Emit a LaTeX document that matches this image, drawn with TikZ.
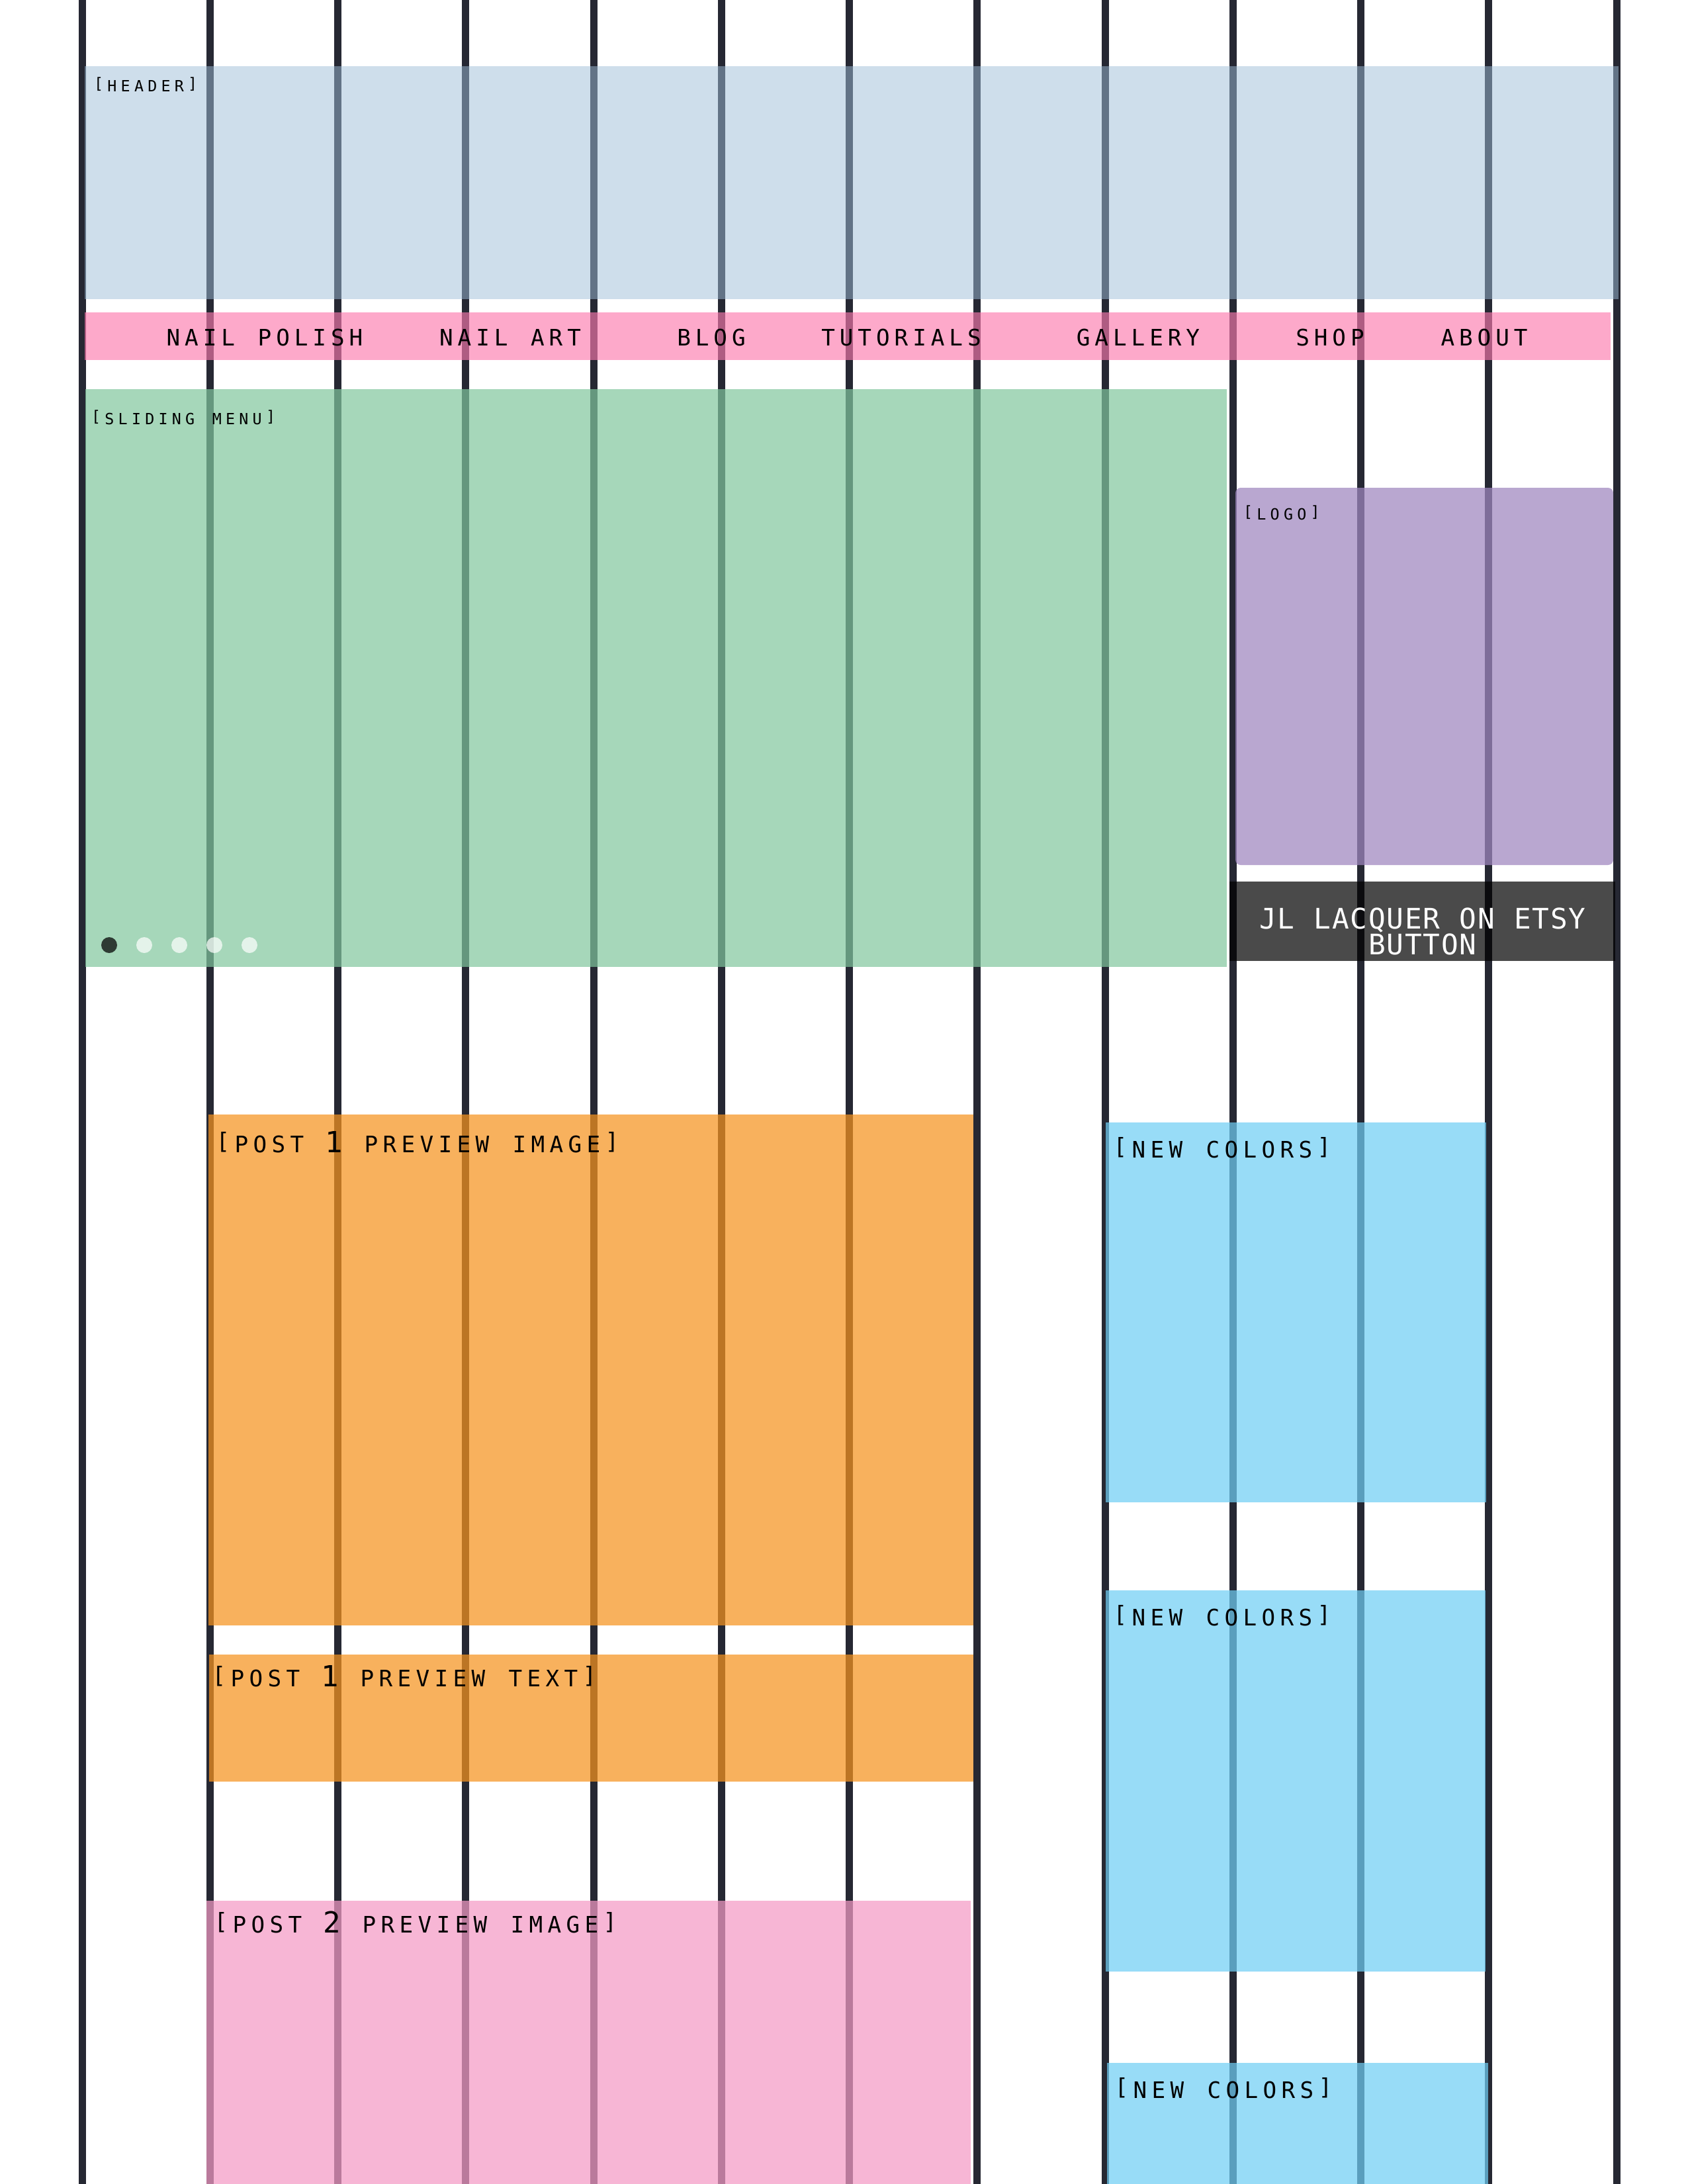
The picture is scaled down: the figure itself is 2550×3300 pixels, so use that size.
\documentclass[tikz,border=0pt]{standalone}
\usepackage{fontspec}
\newfontfamily\monof{DejaVu Sans Mono}
\definecolor{gridc}{RGB}{38,40,51}
\definecolor{hdrc}{RGB}{159,191,217}
\definecolor{navc}{RGB}{252,122,174}
\definecolor{slidec}{RGB}{129,199,158}
\definecolor{logoc}{RGB}{160,135,191}
\definecolor{orangec}{RGB}{246,148,31}
\definecolor{post2c}{RGB}{244,154,197}
\definecolor{bluec}{RGB}{112,206,245}
\ExplSyntaxOn
\dim_new:N \l__rs_pitch_dim
\tl_new:N \l__rs_fa_tl
\tl_new:N \l__rs_fb_tl
\cs_new_protected:Npn \__rs_char:n #1
  {
    \hbox_to_wd:nn { \l__rs_pitch_dim }
      {
        \hfil
        \str_if_in:nnTF { abcdefghijklmnopqrstuvwxyz } { #1 }
          { \l__rs_fb_tl \tex_uppercase:D { #1 } }
          {
            \str_if_in:nnTF { [] } { #1 }
              { \l__rs_fb_tl \box_move_up:nn { 0.13em } { \hbox:n { #1 } } }
              { \l__rs_fa_tl #1 }
          }
        \hfil
      }
  }
\NewDocumentCommand \mtext { m m m m }
  {
    \dim_set:Nn \l__rs_pitch_dim { #1 }
    \tl_set:Nn \l__rs_fa_tl { #2 }
    \tl_set:Nn \l__rs_fb_tl { #3 }
    \str_map_inline:nn { #4 } { \__rs_char:n { ##1 } }
  }
\ExplSyntaxOff
\newcommand\fTiny{\monof\fontsize{5.62pt}{6pt}\selectfont}
\newcommand\fNav{\monof\fontsize{8.26pt}{9pt}\selectfont}
\newcommand\fBig{\monof\fontsize{10.58pt}{11pt}\selectfont}
\newcommand\fBtn{\monof\fontsize{10.3pt}{11pt}\selectfont}
\newcommand\tinylab[1]{\mtext{4.872bp}{\fTiny}{\fTiny}{#1}}
\newcommand\biglab[1]{\mtext{6.72bp}{\fBig}{\fNav}{#1}}
\newcommand\navlab[1]{\mtext{6.624bp}{\fNav}{\fNav}{#1}}
\newcommand\btnlab[1]{\mtext{6.6bp}{\fBtn}{\fBtn}{#1}}
\newcommand\btnblock{\vbox{\baselineskip=9.36bp\lineskiplimit=-100pt\lineskip=0pt
  \hbox to 118.8bp{\hfil\btnlab{JL LACQUER ON ETSY}\hfil}
  \hbox to 118.8bp{\hfil\btnlab{BUTTON}\hfil}}}
\begin{document}
\begin{tikzpicture}[x=0.24bp,y=-0.24bp,
  gridline/.style={line width=2.64bp, draw=gridc},
  lab/.style={anchor=base west, inner sep=0pt, outer sep=0pt},
  navitem/.style={anchor=base, inner sep=0pt, outer sep=0pt},
  btntext/.style={anchor=base, inner sep=0pt, outer sep=0pt, text=white},
  dotdark/.style={fill=black, fill opacity=0.72},
  dotlight/.style={fill=white, fill opacity=0.7}]
\useasboundingbox (0,0) rectangle (2550,3300);
\fill[white] (0,0) rectangle (2550,3300);
% grid columns
\foreach \k in {0,...,12}{
  \draw[gridline] ({124+193.25*\k},0) -- ({124+193.25*\k},3300);
}
% header
\fill[hdrc, fill opacity=0.5] (128,100) rectangle (2446,452);
\node[lab] (lhead) at (139,138) {\tinylab{[header]}};
% navigation bar
\fill[navc, fill opacity=0.645] (128,472) rectangle (2434,544);
\node[navitem] (n1) at (400,522) {\navlab{NAIL POLISH}};
\node[navitem] (n2) at (771,522) {\navlab{NAIL ART}};
\node[navitem] (n3) at (1075,522) {\navlab{BLOG}};
\node[navitem] (n4) at (1362,522) {\navlab{TUTORIALS}};
\node[navitem] (n5) at (1720,522) {\navlab{GALLERY}};
\node[navitem] (n6) at (2010,522) {\navlab{SHOP}};
\node[navitem] (n7) at (2243,522) {\navlab{ABOUT}};
% sliding menu
\fill[slidec, fill opacity=0.70] (129,588) rectangle (1854,1461);
\node[lab] (lslide) at (135,641) {\tinylab{[sliding menu]}};
\fill[dotdark] (165,1428) circle (12);
\fill[dotlight] (218,1428) circle (12);
\fill[dotlight] (271,1428) circle (12);
\fill[dotlight] (324,1428) circle (12);
\fill[dotlight] (377,1428) circle (12);
% logo
\fill[logoc, fill opacity=0.73, rounded corners=1.92bp] (1867,737) rectangle (2438,1307);
\node[lab] (llogo) at (1876,785) {\tinylab{[logo]}};
% etsy button
\fill[black, fill opacity=0.71] (1858,1332) rectangle (2441,1452);
\node[btntext] (btn) at (2150,1442) {\btnblock};
% post 1
\fill[orangec, fill opacity=0.72] (315,1684) rectangle (1471,2456);
\node[lab] (lp1i) at (323,1741) {\biglab{[post 1 preview image]}};
\fill[orangec, fill opacity=0.72] (316,2500) rectangle (1471,2692);
\node[lab] (lp1t) at (317,2548) {\biglab{[post 1 preview text]}};
% post 2
\fill[post2c, fill opacity=0.72] (312,2872) rectangle (1467,3300);
\node[lab] (lp2i) at (320,2920) {\biglab{[post 2 preview image]}};
% new colors
\fill[bluec, fill opacity=0.714] (1671,1696) rectangle (2246,2270);
\node[lab] (lnc1) at (1679,1749) {\biglab{[new colors]}};
\fill[bluec, fill opacity=0.714] (1671,2403) rectangle (2245,2979);
\node[lab] (lnc2) at (1679,2456) {\biglab{[new colors]}};
\fill[bluec, fill opacity=0.714] (1673,3117) rectangle (2249,3300);
\node[lab] (lnc3) at (1681,3170) {\biglab{[new colors]}};
\end{tikzpicture}
\end{document}
